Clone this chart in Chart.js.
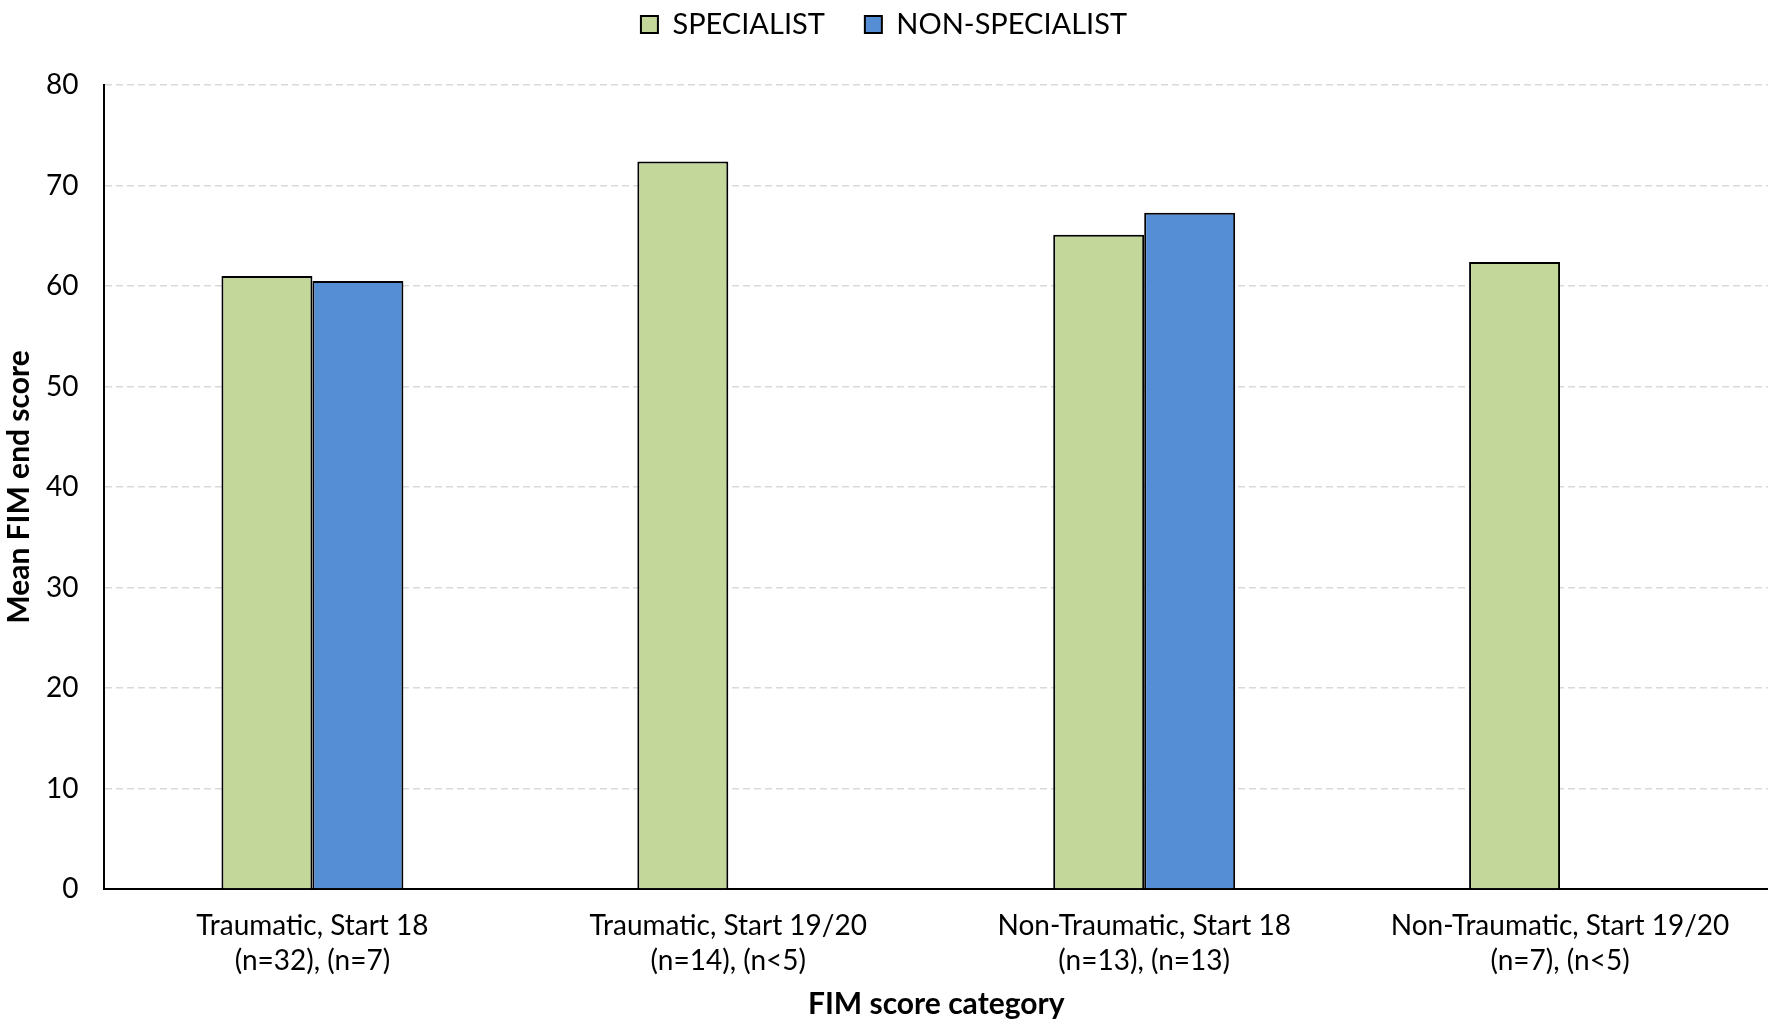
<!DOCTYPE html>
<html>
<head>
<meta charset="utf-8">
<script src="https://cdn.jsdelivr.net/npm/chart.js@4"></script>
<style>
  html, body { margin: 0; padding: 0; background: #fff; }
  #wrap { width: 1768px; height: 1024px; }
</style>
</head>
<body>
<div id="wrap"><canvas id="myChart" width="1768" height="1024"></canvas></div>
<script>
var categories = [
    ["Traumatic, Start 18", "(n=32), (n=7)"],
    ["Traumatic, Start 19/20", "(n=14), (n<5)"],
    ["Non-Traumatic, Start 18", "(n=13), (n=13)"],
    ["Non-Traumatic, Start 19/20", "(n=7), (n<5)"]
];
var specialist = [61.0, 72.4, 65.1, 62.4];
var nonSpecialist = [60.5, null, 67.3, null];
var yTicks = [0, 10, 20, 30, 40, 50, 60, 70, 80];

var fontFamily = "Lato, 'Open Sans', sans-serif";

// push the plot down a bit under the legend
var legendGap = {
    id: 'legendGap',
    beforeInit: function(chart){
        var origFit = chart.legend.fit;
        chart.legend.fit = function(){
            origFit.bind(chart.legend)();
            this.height += 36;
        };
    }
};

var ctx = document.getElementById("myChart").getContext('2d');
var fimChart = new Chart(ctx, {
    type: 'bar',
    data: {
        labels: categories,
        datasets: [{
            label: "SPECIALIST",
            data: specialist,
            backgroundColor: "#C4D79B",
            borderColor: "#000000",
            borderWidth: 2,
            borderSkipped: 'bottom'
        }, {
            label: "NON-SPECIALIST",
            data: nonSpecialist,
            backgroundColor: "#558ED5",
            borderColor: "#000000",
            borderWidth: 2,
            borderSkipped: 'bottom'
        }]
    },
    plugins: [legendGap],
    options: {
        responsive: false,
        animation: false,
        devicePixelRatio: 1,
        categoryPercentage: 0.4375,
        barPercentage: 1.0,
        layout: {
            padding: { top: -30, right: 0, bottom: 2, left: 0 }
        },
        plugins: {
            legend: {
                position: 'top',
                labels: {
                    color: "#000",
                    font: { family: fontFamily, size: 29 },
                    boxWidth: 17,
                    boxHeight: 17,
                    padding: 40
                }
            },
            tooltip: { enabled: false }
        },
        scales: {
            x: {
                grid: { display: false, drawTicks: false },
                border: { display: true, color: "#000", width: 2 },
                ticks: {
                    color: "#000",
                    font: { family: fontFamily, size: 28, lineHeight: 1.25 },
                    padding: 19,
                    maxRotation: 0
                },
                title: {
                    display: true,
                    text: "FIM score category",
                    color: "#000",
                    font: { family: fontFamily, size: 30, weight: 'bold' },
                    padding: { top: -11, bottom: 0 }
                }
            },
            y: {
                min: 0,
                max: 80,
                afterBuildTicks: function(axis){
                    axis.ticks = yTicks.map(function(v){ return { value: v }; });
                },
                grid: { color: "#d9d9d9", lineWidth: 1.5, drawTicks: false },
                border: { display: true, color: "#000", width: 2, dash: [7, 4] },
                ticks: {
                    color: "#000",
                    font: { family: fontFamily, size: 28 },
                    padding: 26
                },
                title: {
                    display: true,
                    text: "Mean FIM end score",
                    color: "#000",
                    font: { family: fontFamily, size: 30, weight: 'bold' },
                    padding: { top: 1, bottom: -17 }
                }
            }
        }
    }
});
</script>
</body>
</html>
